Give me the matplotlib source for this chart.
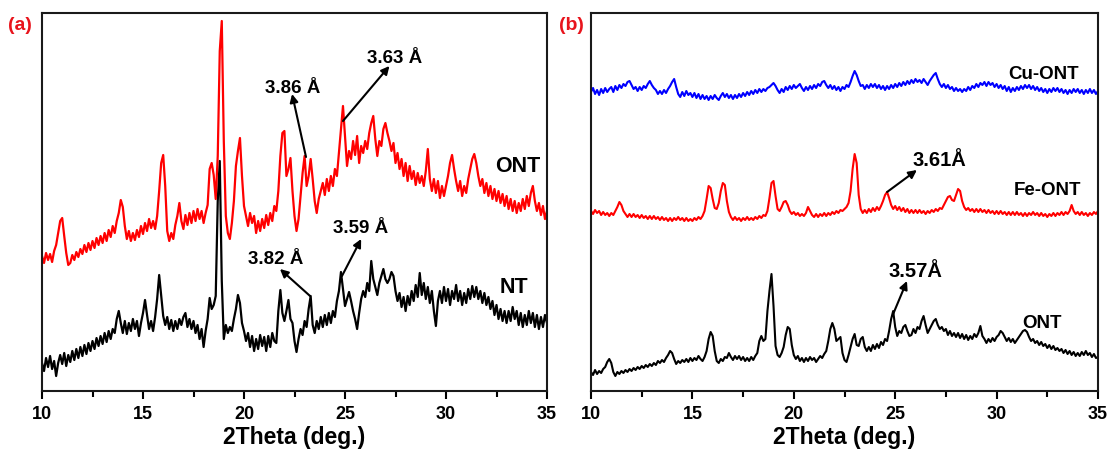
import numpy as np
import matplotlib.pyplot as plt

plt.rcParams['font.family'] = ['Liberation Sans', 'DejaVu Sans']
plt.rcParams['font.weight'] = 'bold'

# scan grid, 0.1 deg step
two_theta = np.linspace(10, 35, 251)

# (a) intensities, arbitrary units with offset
ont_a = [
    135, 128, 138, 131, 137, 129, 140, 146, 158, 170,
    173, 155, 138, 126, 128, 136, 131, 139, 134, 142,
    137, 146, 139, 148, 141, 150, 143, 153, 146, 155,
    148, 158, 150, 161, 154, 165, 158, 170, 178, 191,
    184, 165, 152, 160, 150, 158, 151, 161, 154, 165,
    157, 168, 160, 172, 163, 170, 162, 175, 200, 228,
    236, 205, 160, 150, 158, 152, 166, 175, 188, 170,
    162, 176, 166, 178, 168, 180, 170, 182, 172, 180,
    168, 178, 186, 222, 228, 216, 192, 235, 340, 370,
    250, 175, 158, 152, 168, 190, 225, 240, 253, 215,
    185, 175, 165, 178, 168, 175, 158, 170, 160, 172,
    163, 176, 166, 178, 170, 185, 180, 200, 235, 258,
    260, 215, 222, 233, 200, 175, 160, 172, 195, 218,
    235, 205, 215, 232, 212, 190, 178, 192, 200, 208,
    196, 212, 200, 215, 205, 222, 215, 238, 262, 285,
    255, 225, 240, 232, 250, 236, 255, 228, 245, 238,
    250, 242, 258, 268, 275, 252, 235, 250, 245, 262,
    268, 258, 250, 240, 248, 228, 238, 222, 232, 215,
    228, 210, 225, 212, 220, 206, 218, 208, 215, 205,
    220, 242, 212, 200, 212, 198, 210, 193, 205, 195,
    205, 215, 228, 236, 222, 210, 200, 210, 195, 205,
    198, 212, 222, 232, 237, 228, 215, 205, 212, 198,
    208, 195, 205, 192, 202, 190, 200, 188, 197, 185,
    195, 182, 192, 180, 190, 178, 188, 180, 192, 182,
    195, 185, 198, 205, 190, 180, 188, 176, 185, 172,
    180,
]

nt_a = [
    28, 20, 33, 24, 35, 22, 30, 15, 28, 36,
    27, 38, 25, 36, 29, 40, 31, 42, 33, 44,
    35, 46, 37, 48, 40, 50, 42, 53, 45, 55,
    47, 58, 49, 60, 52, 62, 58, 72, 80, 68,
    58, 70, 57, 68, 60, 72, 62, 70, 55, 68,
    78, 91, 76, 62, 70, 60, 74, 92, 116, 95,
    75, 66, 74, 62, 71, 60, 70, 62, 72, 66,
    74, 78, 64, 72, 62, 70, 58, 66, 52, 62,
    44, 60, 72, 93, 82, 86, 95, 190, 230, 110,
    52, 66, 58, 64, 60, 72, 82, 96, 88, 68,
    60, 50, 58, 44, 55, 40, 52, 42, 56, 45,
    54, 40, 55, 44, 58, 50, 48, 80, 101, 78,
    70, 80, 91, 72, 68, 50, 39, 52, 62, 56,
    70, 64, 82, 95, 66, 58, 70, 62, 74, 64,
    76, 66, 78, 68, 80, 74, 90, 100, 119, 102,
    85, 92, 99, 90, 80, 72, 62, 78, 92, 100,
    94, 108, 100, 130, 112, 104, 96, 108, 115, 122,
    112, 108, 112, 119, 115, 100, 90, 98, 84, 94,
    80, 95, 86, 100, 90, 106, 94, 118, 96, 108,
    92, 104, 88, 100, 80, 65, 90, 100, 88, 104,
    90, 102, 86, 100, 92, 106, 90, 100, 86, 98,
    88, 102, 92, 105, 94, 104, 92, 100, 88, 98,
    86, 94, 82, 90, 76, 86, 72, 82, 70, 80,
    68, 80, 70, 84, 72, 80, 66, 78, 64, 76,
    66, 80, 68, 78, 64, 76, 62, 74, 64, 76,
    68,
]

# (b) intensities
cu_ont = [
    299, 303, 297, 301, 296, 302, 298, 303, 299, 302,
    304, 299, 305, 301, 306, 303, 307, 305, 309, 310,
    306, 302, 304, 300, 304, 301, 305, 303, 307, 310,
    306, 303, 301, 297, 300, 297, 301, 298, 302, 305,
    309, 312, 304, 297, 294, 299, 295, 300, 296, 298,
    294, 298, 293, 297, 292, 296, 292, 295, 291, 295,
    292, 296, 293, 291, 295, 298, 294, 297, 293, 296,
    292, 296, 293, 297, 294, 298, 295, 299, 296, 300,
    297, 301, 298, 302, 299, 302, 300, 303, 304, 306,
    308, 305, 301, 298, 302, 299, 304, 301, 305, 302,
    306, 303, 305, 307, 303, 300, 304, 301, 305, 302,
    306, 303, 307, 305, 309, 310, 306, 303, 306, 302,
    305, 301, 304, 300, 304, 302, 306, 304, 309, 315,
    320, 316, 310, 305, 306, 302, 306, 303, 307, 304,
    307, 303, 306, 302, 305, 301, 305, 302, 306, 303,
    307, 304, 308, 305, 309, 306, 310, 307, 311, 308,
    312, 309, 311, 308, 312, 309, 306, 310, 313, 316,
    318, 312, 307, 304, 307, 303, 306, 302, 304, 300,
    303, 300, 302, 299, 302, 300, 304, 301, 305, 303,
    307, 304, 308, 306, 309, 305, 309, 306, 308, 304,
    307, 303, 306, 302, 305, 300, 304, 299, 303, 300,
    304, 301, 305, 302, 306, 303, 306, 302, 305, 301,
    304, 300, 303, 299, 302, 298, 302, 299, 303, 300,
    303, 299, 302, 298, 301, 297, 301, 298, 302, 299,
    302, 298, 301, 297, 301, 298, 302, 298, 301, 297,
    300,
]

fe_ont = [
    180, 177, 181, 178, 180, 176, 179, 176, 178, 175,
    178, 176, 180, 184, 189, 186, 180, 177, 174, 177,
    174, 177, 174, 176, 173, 176, 173, 175, 172, 175,
    172, 175, 172, 174, 171, 174, 171, 173, 170, 173,
    170, 173, 171, 174, 171, 173, 170, 173, 170, 172,
    170, 173, 171, 174, 172, 175, 180, 192, 205, 203,
    192, 183, 182, 188, 200, 208, 206, 190, 179, 174,
    171, 174, 171, 173, 170, 173, 171, 174, 171, 173,
    171, 174, 172, 175, 173, 176, 175, 180, 193, 208,
    210, 195, 182, 180, 184, 189, 190, 186, 180, 177,
    179, 176, 178, 175, 177, 175, 178, 184, 180, 176,
    174, 177, 174, 177, 175, 178, 175, 178, 176, 179,
    177, 180, 178, 181, 180, 182, 184, 188, 200, 222,
    237, 228, 196, 182, 178, 181, 178, 182, 179, 183,
    180, 184, 181, 185, 190, 196, 199, 193, 186, 182,
    185, 181, 184, 180, 183, 179, 182, 178, 181, 178,
    181, 178, 181, 178, 180, 177, 180, 178, 181, 179,
    182, 180, 183, 182, 186, 190, 194, 195, 191, 190,
    196, 202, 200, 190, 184, 181, 183, 180, 182, 179,
    182, 179, 182, 179, 181, 178, 181, 178, 180, 177,
    180, 177, 180, 177, 179, 176, 179, 176, 179, 176,
    179, 176, 178, 175, 178, 175, 178, 176, 179, 176,
    178, 175, 178, 175, 177, 174, 177, 175, 178, 175,
    178, 176, 179, 176, 179, 177, 180, 186, 180, 177,
    179, 176, 179, 176, 178, 175, 178, 176, 179, 177,
    180,
]

ont_b = [
    19, 16, 21, 17, 20, 18, 22, 24, 29, 32,
    28, 19, 15, 19, 17, 20, 18, 21, 19, 22,
    20, 23, 21, 24, 22, 25, 23, 26, 24, 27,
    25, 28, 26, 30, 28, 31, 29, 33, 36, 40,
    38, 32, 27, 30, 28, 31, 29, 32, 29, 33,
    30, 33, 31, 35, 32, 30, 34, 40, 52, 59,
    55, 40, 30, 28, 32, 30, 34, 33, 38, 34,
    31, 35, 32, 35, 31, 34, 30, 33, 30, 34,
    31, 35, 38, 50, 55, 50, 52, 80, 100, 117,
    85, 45, 36, 34, 38, 44, 56, 64, 62, 46,
    36, 32, 35, 30, 33, 29, 33, 30, 34, 31,
    33, 29, 32, 35, 33, 37, 40, 50, 62, 68,
    62, 50, 52, 54, 38, 31, 29, 36, 44, 52,
    57, 46, 45, 52, 54, 44, 40, 44, 40, 46,
    42, 47, 43, 49, 46, 52, 50, 60, 72, 80,
    64, 55, 60, 58, 64, 66, 60, 55, 56, 62,
    58, 64, 62, 70, 75, 66, 58, 62, 66, 70,
    72, 66, 62, 64, 60, 62, 56, 60, 55, 58,
    54, 58, 53, 57, 52, 56, 51, 55, 52, 57,
    54, 58, 65, 55, 52, 48, 52, 49, 53, 50,
    54, 56, 60, 58, 54, 50, 53, 49, 52, 48,
    51, 54, 57, 60, 61, 59, 54, 50, 52, 48,
    50, 46, 49, 45, 47, 43, 46, 42, 45, 41,
    43, 40, 42, 38, 41, 37, 40, 36, 39, 35,
    38, 35, 39, 36, 40, 36, 38, 34, 37, 33,
    34,
]

series_a = [("NT", nt_a, "black"), ("ONT", ont_a, "#ff0000")]
series_b = [("ONT", ont_b, "black"), ("Fe-ONT", fe_ont, "#ff0000"),
            ("Cu-ONT", cu_ont, "#0000ff")]

# name labels: (text, x, y, size)
names_a = [("ONT", 33.54, 220, 15.5), ("NT", 33.37, 99, 15.5)]
names_b = [("Cu-ONT", 32.34, 313, 13.5), ("Fe-ONT", 32.49, 197, 13.5),
           ("ONT", 32.26, 64, 13.5)]

# d-spacing callouts: (text, text xy, arrow tail, arrow head, size)
dspace_a = [
    ("3.86 Å", (22.40, 299), (23.07, 234), (22.38, 297), 13.5),
    ("3.63 Å", (27.45, 329), (24.90, 270), (27.20, 325), 13.5),
    ("3.82 Å", (21.56, 128), (23.27, 95), (21.78, 122), 13.5),
    ("3.59 Å", (25.77, 159), (24.85, 115), (25.80, 152), 13.5),
]
dspace_b = [
    ("3.61Å", (27.16, 226), (24.60, 199), (26.07, 221), 14.5),
    ("3.57Å", (25.98, 115), (24.90, 77), (25.58, 110), 14.5),
]

fig = plt.figure(figsize=(11.11, 4.52), dpi=100)
ax_a = fig.add_axes([42 / 1111, 60 / 452, 505 / 1111, 378 / 452])
ax_b = fig.add_axes([591 / 1111, 60 / 452, 507 / 1111, 378 / 452])


def draw_panel(ax, series, names, dspace, lw):
    for _, vals, col in series:
        ax.plot(two_theta, vals, color=col, lw=lw)
    for txt, x, y, fs in names:
        ax.text(x, y, txt, ha="center", va="baseline", fontsize=fs,
                fontweight="bold")
    for txt, txy, tail, head, fs in dspace:
        ax.text(txy[0], txy[1], txt, ha="center", va="baseline",
                fontsize=fs, fontweight="bold")
        ax.annotate("", xy=head, xytext=tail,
                    arrowprops=dict(arrowstyle="-|>", color="black", lw=1.5,
                                    mutation_scale=12, shrinkA=0, shrinkB=0))
    ax.set_xlim(10, 35)
    ax.set_ylim(0, 378)
    ax.set_xticks([10, 15, 20, 25, 30, 35])
    ax.set_xticks([12.5, 17.5, 22.5, 27.5, 32.5], minor=True)
    ax.set_yticks([])
    ax.tick_params(axis="x", which="major", direction="out", length=6,
                   width=1.5, labelsize=13, pad=4)
    ax.tick_params(axis="x", which="minor", direction="out", length=4,
                   width=1.5)
    for sp in ax.spines.values():
        sp.set_linewidth(1.5)
        sp.set_color("#1a1a1a")
    ax.set_xlabel("2Theta (deg.)", fontsize=16.5, fontweight="bold",
                  labelpad=2)


draw_panel(ax_a, series_a, names_a, dspace_a, 1.6)
draw_panel(ax_b, series_b, names_b, dspace_b, 1.5)

fig.text(20 / 1111, 1 - 26 / 452, "(a)", color="#e8141c", fontsize=14,
         fontweight="bold", ha="center", va="center")
fig.text(571 / 1111, 1 - 26 / 452, "(b)", color="#e8141c", fontsize=14,
         fontweight="bold", ha="center", va="center")

fig.savefig("out.png", dpi=100)
